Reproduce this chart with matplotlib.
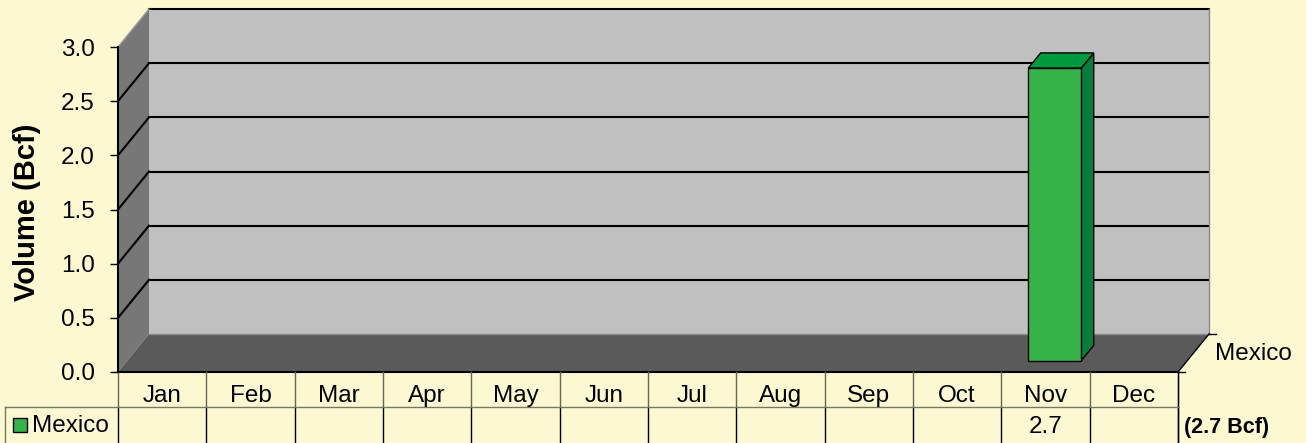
import numpy as np
import matplotlib
matplotlib.use('Agg')
from matplotlib import pyplot as plt
from matplotlib.patches import Polygon, Rectangle
from matplotlib.lines import Line2D
from matplotlib.transforms import IdentityTransform, blended_transform_factory

plt.rcParams['font.family'] = ['Liberation Sans', 'DejaVu Sans']

# data
months = ['Jan', 'Feb', 'Mar', 'Apr', 'May', 'Jun',
          'Jul', 'Aug', 'Sep', 'Oct', 'Nov', 'Dec']
mexico = [None, None, None, None, None, None,
          None, None, None, None, 2.7, None]
series_name = 'Mexico'
total_label = '(2.7 Bcf)'
yticks = [0.0, 0.5, 1.0, 1.5, 2.0, 2.5, 3.0]

bg = '#FCF9D2'
W, H = 1306, 443
fs = 17.5

fig = plt.figure(figsize=(W / 100, H / 100), dpi=100, facecolor=bg)
ax = fig.add_axes([118 / W, (H - 372) / H, 1060 / W, 325 / H])
ax.set_xlim(0, len(months))
ax.set_ylim(yticks[0], yticks[-1])
ax.patch.set_visible(False)

# depth of the 3d box in pixels
DX, DY = 31, 38
ident = IdentityTransform()


def pt(x, v, d=0.0):
    px, py = ax.transData.transform((x, v))
    return (px + DX * d, py + DY * d)


def poly(points, color, z, ec='none', lw=0):
    ax.add_patch(Polygon(points, closed=True, fc=color, ec=ec, lw=lw,
                         transform=ident, clip_on=False, zorder=z))


def seg(p0, p1, color='black', lw=1.5, z=3):
    ax.add_line(Line2D([p0[0], p1[0]], [p0[1], p1[1]], color=color, lw=lw,
                       transform=ident, clip_on=False, zorder=z))


n = len(months)
top = yticks[-1]

# walls and floor
poly([pt(0, 0, 1), pt(n, 0, 1), pt(n, top, 1), pt(0, top, 1)], '#C0C0C0', 1)
poly([pt(0, 0, 0), pt(0, 0, 1), pt(0, top, 1), pt(0, top, 0)], '#777777', 1)
poly([pt(0, 0, 0), pt(n, 0, 0), pt(n, 0, 1), pt(0, 0, 1)], '#5A5A5A', 1)

# gridlines
for v in yticks[1:]:
    seg(pt(0, v, 1), pt(n, v, 1))
    if v < top:
        seg(pt(0, v, 0), pt(0, v, 1))
seg(pt(n, 0, 1), pt(n, top, 1), color='#8A8A8A', lw=1)
seg(pt(0, 0, 1), pt(n, 0, 1), color='#8A8A8A', lw=1)
seg(pt(0, top, 0), pt(0, top, 1), color='#9A9A9A', lw=1)
seg(pt(0, 0, 0), pt(n, 0, 0), lw=1.5)
seg(pt(n, 0, 0), pt(n, 0, 1), lw=1)
p = pt(n, 0, 1)
seg(p, (p[0] + 7, p[1]), lw=1)
p = pt(n, 0, 0)
seg(p, (p[0] + 7, p[1]), lw=1)

# bars
half, d0, d1 = 0.3, 0.3, 0.7
for i, v in enumerate(mexico):
    if v is None:
        continue
    xl, xr = i + 0.5 - half, i + 0.5 + half
    poly([pt(xr, 0, d0), pt(xr, 0, d1), pt(xr, v, d1), pt(xr, v, d0)],
         '#087D3D', 5, ec='black', lw=1)
    poly([pt(xl, v, d0), pt(xr, v, d0), pt(xr, v, d1), pt(xl, v, d1)],
         '#009A3E', 5, ec='black', lw=1)
    poly([pt(xl, 0, d0), pt(xr, 0, d0), pt(xr, v, d0), pt(xl, v, d0)],
         '#37B34A', 6, ec='black', lw=1)

# y axis
for s in ['top', 'right', 'bottom']:
    ax.spines[s].set_visible(False)
ax.spines['left'].set_linewidth(1.5)
ax.spines['left'].set_zorder(4)
ax.set_xticks([])
ax.set_yticks(yticks)
ax.set_yticklabels([f'{v:.1f}' for v in yticks])
ax.tick_params(axis='y', direction='out', length=5.8, width=1,
               labelsize=fs, pad=11)
fig.text(27 / W, (H - 212) / H, 'Volume (Bcf)', rotation=90, ha='center',
         va='center', fontsize=21, fontweight='bold')

# data table
def dy(ypx):
    return H - ypx


xs = [ax.transData.transform((i, 0))[0] for i in range(n + 1)]
for x in xs:
    seg((x, dy(372)), (x, dy(407)), color='#666655', lw=1)
    seg((x, dy(407)), (x, dy(443)), color='black', lw=1)
seg((xs[-1], dy(372)), (xs[-1], dy(443)), color='black', lw=1)
seg((5, dy(407)), (xs[-1], dy(407)), color='#777766', lw=1)
seg((5, dy(407)), (5, dy(443)), color='#777766', lw=1)

hb = blended_transform_factory(ax.transData, ax.transAxes)
for i, m in enumerate(months):
    ax.text(i + 0.5, (372 - 402) / 325, m, transform=hb, ha='center',
            va='baseline', fontsize=fs)
for i, v in enumerate(mexico):
    if v is not None:
        ax.text(i + 0.5, (372 - 433) / 325, f'{v:.1f}', transform=hb,
                ha='center', va='baseline', fontsize=fs)

ax.add_patch(Rectangle((13, dy(432)), 14, 14, fc='#37B34A', ec='black', lw=1,
                       transform=ident, clip_on=False, zorder=5))
fig.text(32 / W, dy(432) / H, series_name, ha='left', va='baseline',
         fontsize=fs)
fig.text(1215 / W, dy(360) / H, series_name, ha='left', va='baseline',
         fontsize=fs)
fig.text(1184 / W, dy(433) / H, total_label, ha='left', va='baseline',
         fontsize=15.5, fontweight='bold')

fig.savefig('out.png', dpi=100, facecolor=bg)
